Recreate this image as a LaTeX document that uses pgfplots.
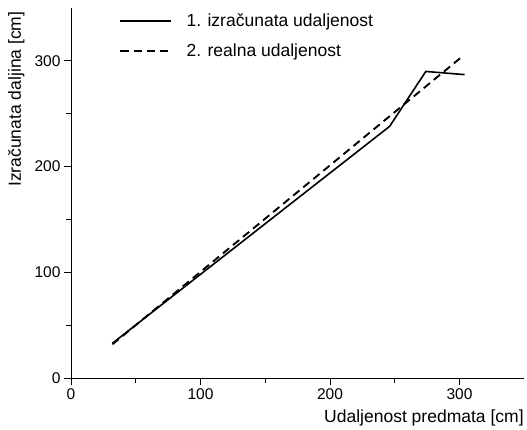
\documentclass[border=0pt]{standalone}
\usepackage{fontspec}
\setmainfont{Liberation Sans}
\usepackage{pgfplots}
\pgfplotsset{compat=1.18}
\begin{document}
\begin{tikzpicture}
\begin{axis}[
  name=ax,
  scale only axis,
  width=453pt, height=370pt,
  xmin=0, xmax=350, ymin=0, ymax=350,
  axis x line*=bottom, axis y line*=left,
  axis line style={-, line width=0.9pt},
  tick align=outside,
  xtick={0,100,200,300}, ytick={0,100,200,300},
  minor xtick={50,150,250}, minor ytick={50,150,250},
  major tick length=7pt, minor tick length=5pt,
  tick style={line width=0.9pt, black},
  /pgf/number format/assume math mode=true,
  tick label style={font=\fontsize{15.5}{18}\selectfont},
  label style={font=\fontsize{17.5}{21}\selectfont},
  xlabel={Udaljenost predmata [cm]},
  ylabel={Izračunata daljina [cm]},
  xlabel style={at={(rel axis cs:1,0)}, anchor=north east, yshift=-28pt, xshift=3pt},
  ylabel style={at={(rel axis cs:0,1)}, anchor=south east, yshift=43pt, xshift=0pt},
  legend style={at={(rel axis cs:0.1,0.995)}, anchor=north west, draw=none, fill=none,
    font=\fontsize{17.5}{21}\selectfont, row sep=12pt},
  legend cell align=left,
  legend image code/.code={\draw[#1] (0pt,0pt) -- (50pt,0pt); \path[draw=none] (64pt,0pt);},
]
\addplot[black, line width=1.6pt] coordinates {(32,33) (246,238) (274,290) (304,287)};
\addlegendentry{1. izračunata udaljenost}
\addplot[black, line width=1.9pt, dash pattern=on 8pt off 5pt] coordinates {(32,32) (303,305)};
\addlegendentry{2. realna udaljenost}
\end{axis}
\path ([xshift=-71pt,yshift=8pt]ax.north west);
\end{tikzpicture}
\end{document}
